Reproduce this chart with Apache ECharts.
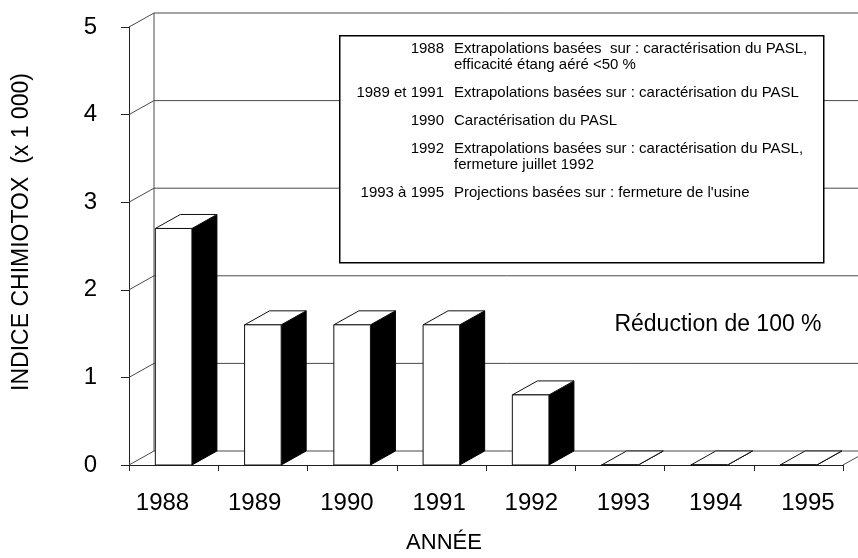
<!DOCTYPE html>
<html>
<head>
<meta charset="utf-8">
<title>Indice Chimiotox</title>
<script src="https://cdn.jsdelivr.net/npm/echarts@6/dist/echarts.min.js"></script>
<style>
    html, body { margin: 0; padding: 0; background: #fff; }
    #chart { width: 858px; height: 558px; }
</style>
</head>
<body>
<div id="chart"></div>
<script>
// donnees
var annees = ['1988', '1989', '1990', '1991', '1992', '1993', '1994', '1995'];
var indice = [2.7, 1.6, 1.6, 1.6, 0.8, 0, 0, 0];
var graduations = [0, 1, 2, 3, 4, 5];

// encadre des notes
var notesAnnees = ['1988', '1989 et 1991', '1990', '1992', '1993 à 1995'];
var notesTextes = [
    ['Extrapolations basées  sur : caractérisation du PASL,', 'efficacité étang aéré <50 %'],
    ['Extrapolations basées sur : caractérisation du PASL'],
    ['Caractérisation du PASL'],
    ['Extrapolations basées sur : caractérisation du PASL,', 'fermeture juillet 1992'],
    ['Projections basées sur : fermeture de l\'usine']
];

var FONT = '"Liberation Sans", Arial, Helvetica, sans-serif';
var DX = 25, DY = 14;      // profondeur de l'effet 3D
var GRIS = '#4a4a4a';

function renderMur(params, api) {
    var cs = params.coordSys;
    var y = api.coord([api.value(0), api.value(1)])[1];
    var xl = cs.x, xr = cs.x + cs.width;
    var st = {stroke: GRIS, lineWidth: 1, fill: null};
    var enfants = [
        {type: 'line', shape: {x1: xl, y1: y, x2: xl + DX, y2: y - DY}, style: st},
        {type: 'line', shape: {x1: xl + DX, y1: y - DY, x2: xr + DX + 20, y2: y - DY}, style: st}
    ];
    if (params.dataIndex === 0) {
        enfants.push({type: 'line', shape: {x1: xl + DX, y1: y - DY, x2: xl + DX, y2: cs.y - DY}, style: st});
        enfants.push({type: 'line', shape: {x1: xr, y1: y, x2: xr + DX, y2: y - DY}, style: st});
    }
    return {type: 'group', children: enfants};
}

function renderBarre(params, api) {
    var haut = api.coord([api.value(0), api.value(1)]);
    var bas = api.coord([api.value(0), 0]);
    var w = api.size([1, 0])[0] * 0.41;
    var x0 = haut[0] - w / 2, x1 = haut[0] + w / 2;
    var yt = haut[1], yb = bas[1];
    return {
        type: 'group',
        children: [
            {type: 'polygon', shape: {points: [[x1, yb], [x1 + DX, yb - DY], [x1 + DX, yt - DY], [x1, yt]]},
                style: {fill: '#000', stroke: '#000', lineWidth: 1}},
            {type: 'polygon', shape: {points: [[x0, yt], [x0 + DX, yt - DY], [x1 + DX, yt - DY], [x1, yt]]},
                style: {fill: '#fff', stroke: '#111', lineWidth: 1}},
            {type: 'rect', shape: {x: x0, y: yt, width: w, height: yb - yt},
                style: {fill: '#fff', stroke: '#111', lineWidth: 1}}
        ]
    };
}

// textes de l'encadre
var notesGraphic = [{
    type: 'rect', left: 339, top: 35, z: 10,
    shape: {width: 484, height: 227},
    style: {fill: '#fff', stroke: '#000', lineWidth: 1.5}
}];
var yNote = 49;
for (var i = 0; i < notesAnnees.length; i++) {
    notesGraphic.push({
        type: 'text', x: 444, y: yNote, z: 11,
        style: {text: notesAnnees[i], font: '15px ' + FONT, fill: '#000', align: 'right', verticalAlign: 'middle'}
    });
    for (var j = 0; j < notesTextes[i].length; j++) {
        notesGraphic.push({
            type: 'text', x: 454, y: yNote + j * 16, z: 11,
            style: {text: notesTextes[i][j], font: '15px ' + FONT, fill: '#000', align: 'left', verticalAlign: 'middle'}
        });
    }
    yNote += (notesTextes[i].length - 1) * 16 + 28;
}

var option = {
    backgroundColor: '#fff',
    animation: false,
    textStyle: {fontFamily: FONT},
    grid: [
        {left: 129, top: 27, width: 714, height: 438},
        {left: 116.4, top: 27, width: 737.6, height: 438}
    ],
    xAxis: [
        {
            type: 'category',
            gridIndex: 0,
            data: annees,
            axisLine: {lineStyle: {color: '#222', width: 1}},
            axisTick: {show: true, length: 6, lineStyle: {color: '#222'}},
            axisLabel: {show: false},
            splitLine: {show: false}
        },
        {
            type: 'category',
            gridIndex: 1,
            data: annees,
            axisLine: {show: false},
            axisTick: {show: false},
            axisLabel: {color: '#000', fontSize: 24, fontFamily: FONT, margin: 26, interval: 0},
            splitLine: {show: false}
        }
    ],
    yAxis: [
        {
            type: 'value',
            gridIndex: 0,
            min: 0,
            max: 5,
            interval: 1,
            axisLine: {show: true, lineStyle: {color: '#222', width: 1}},
            axisTick: {show: true, length: 8, lineStyle: {color: '#222'}},
            axisLabel: {color: '#000', fontSize: 24, fontFamily: FONT, margin: 32},
            splitLine: {show: false}
        },
        {
            type: 'value',
            gridIndex: 1,
            show: false,
            min: 0,
            max: 5
        }
    ],
    series: [
        {
            name: 'mur',
            type: 'custom',
            xAxisIndex: 0,
            yAxisIndex: 0,
            z: 1,
            silent: true,
            renderItem: renderMur,
            data: graduations.map(function (v) { return [annees[0], v]; })
        },
        {
            name: 'Indice Chimiotox',
            type: 'custom',
            xAxisIndex: 0,
            yAxisIndex: 0,
            z: 3,
            renderItem: renderBarre,
            data: annees.map(function (a, k) { return [a, indice[k]]; })
        }
    ],
    graphic: notesGraphic.concat([
        {
            type: 'text', x: 22, y: 232, rotation: Math.PI / 2, z: 10,
            style: {text: 'INDICE CHIMIOTOX  (x 1 000)', font: '23px ' + FONT, fill: '#000', align: 'center', verticalAlign: 'middle'}
        },
        {
            type: 'text', x: 444, y: 543, z: 10,
            style: {text: 'ANNÉE', font: '22px ' + FONT, fill: '#000', align: 'center', verticalAlign: 'middle'}
        },
        {
            type: 'text', x: 718, y: 325, z: 10,
            style: {text: 'Réduction de 100 %', font: '23px ' + FONT, fill: '#000', align: 'center', verticalAlign: 'middle'}
        }
    ])
};

echarts.init(document.getElementById('chart')).setOption(option);
</script>
</body>
</html>
